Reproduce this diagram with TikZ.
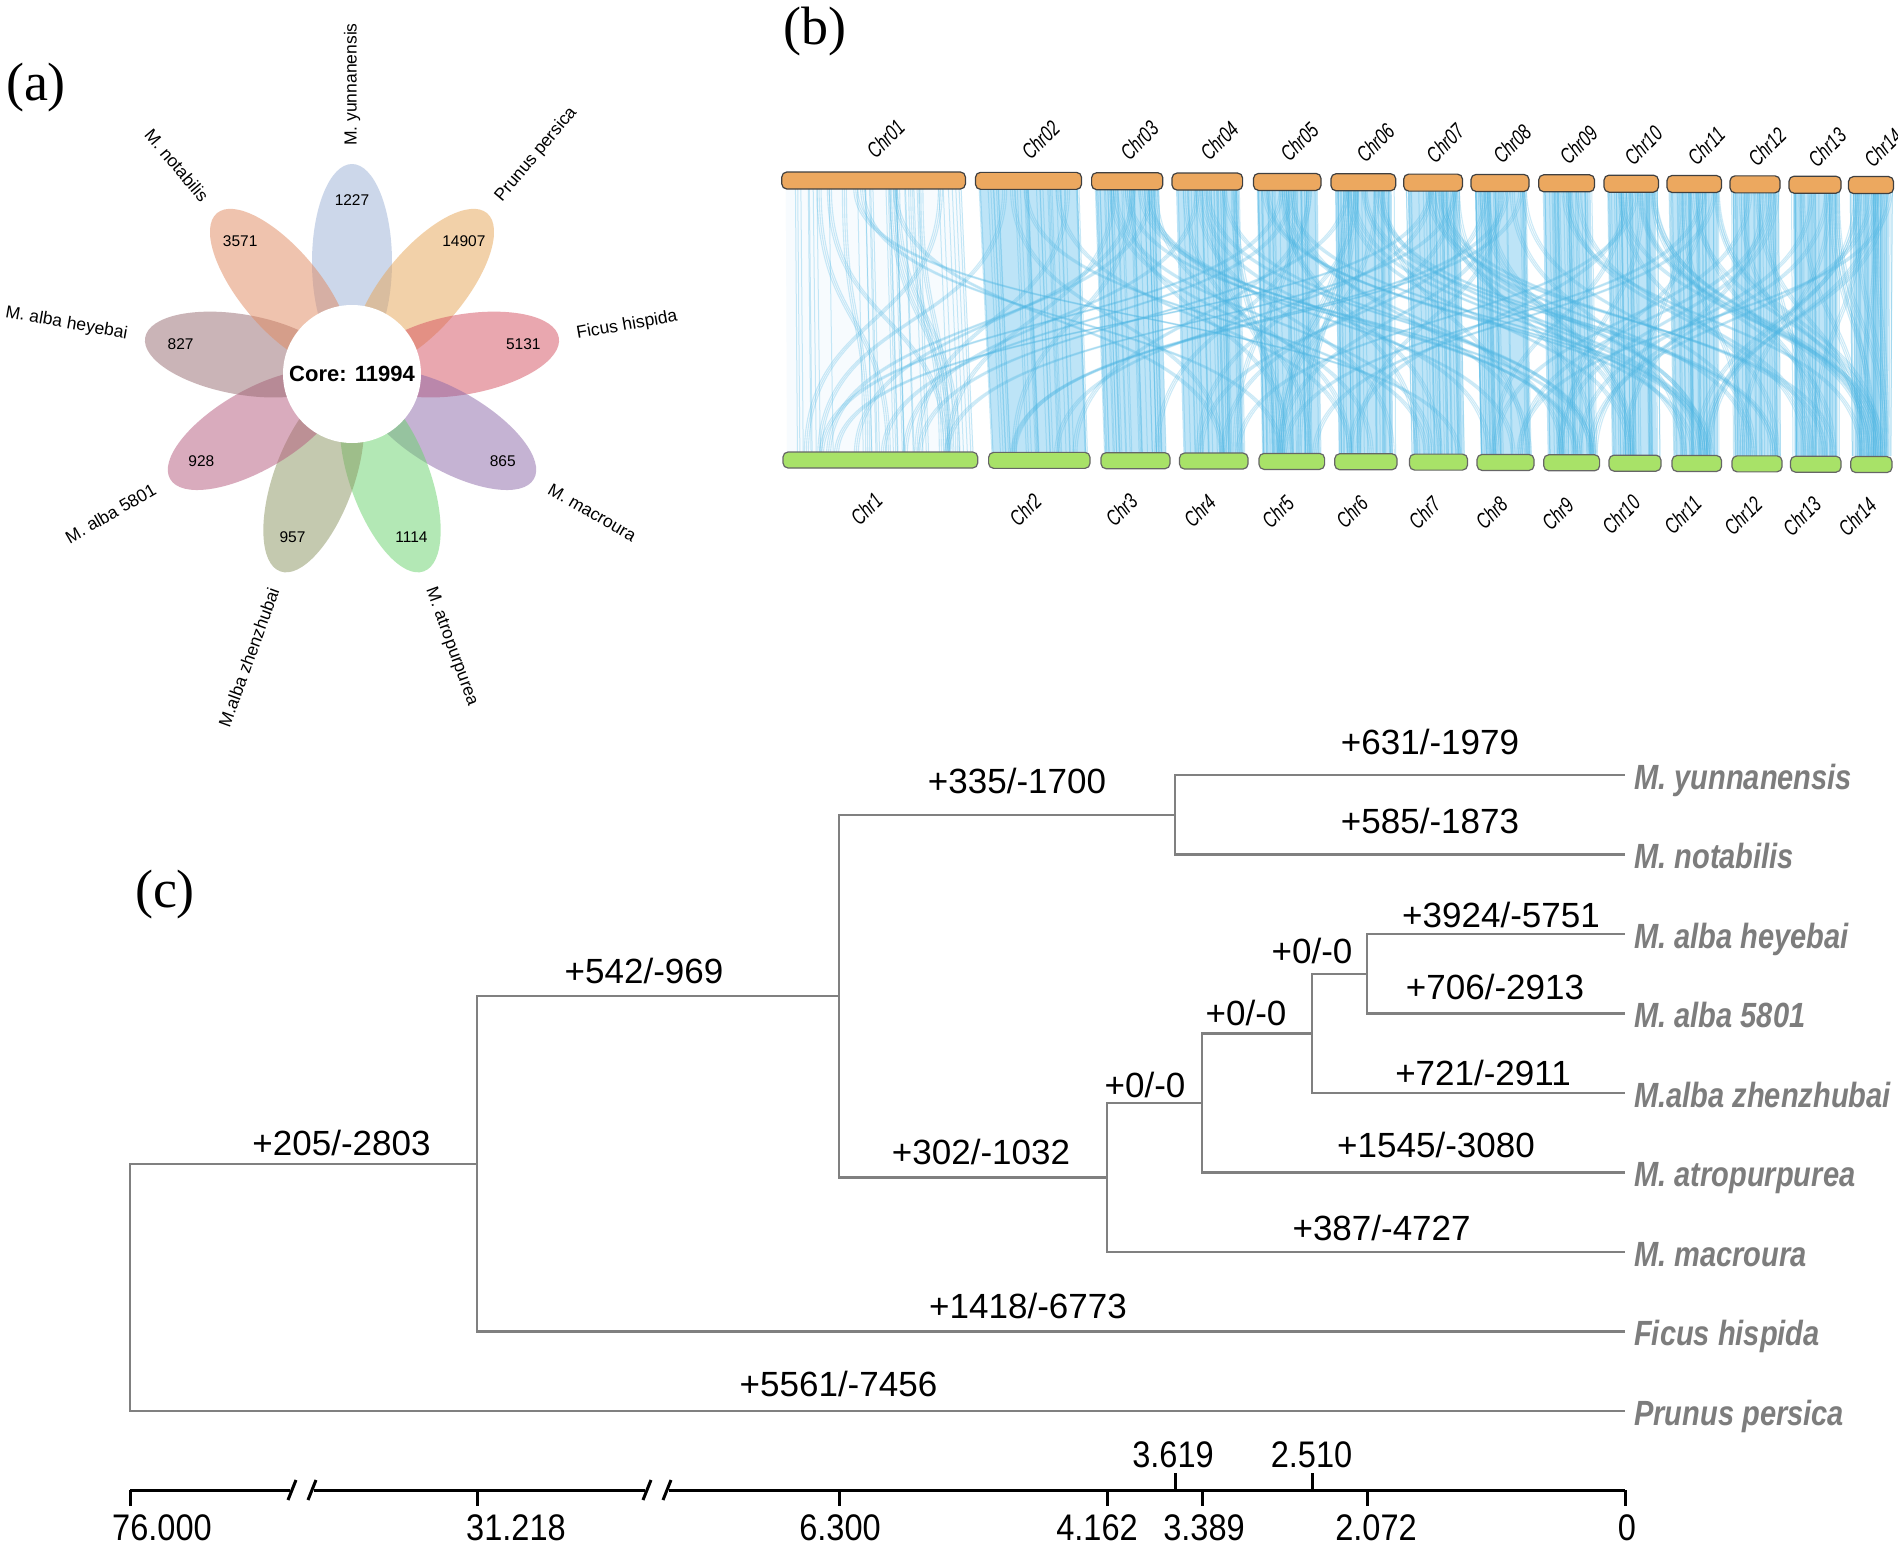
\documentclass[tikz,border=0pt]{standalone}
\usepackage{fontspec}
\setmainfont{Liberation Sans}
\newfontfamily\timesf{Liberation Serif}
\newfontfamily\leaff[FakeStretch=0.83]{Liberation Sans}
\newfontfamily\axisf[FakeStretch=0.88]{Liberation Sans}
\newfontfamily\chrf[FakeStretch=0.72]{Liberation Sans}
\definecolor{cyun}{RGB}{155,177,215}
\definecolor{cpru}{RGB}{231,165,85}
\definecolor{cfic}{RGB}{213,81,97}
\definecolor{cmac}{RGB}{141,105,169}
\definecolor{catr}{RGB}{105,211,109}
\definecolor{czhe}{RGB}{139,149,97}
\definecolor{cfiv}{RGB}{181,89,125}
\definecolor{chey}{RGB}{151,107,113}
\definecolor{cnot}{RGB}{225,137,95}
\definecolor{treegray}{RGB}{128,128,128}
\definecolor{leafgray}{RGB}{125,125,125}
\definecolor{barorange}{RGB}{236,168,95}
\definecolor{bargreen}{RGB}{168,226,104}
\definecolor{linkblue}{RGB}{75,182,228}
\definecolor{linkfill}{RGB}{125,202,240}
\tikzset{
 branch/.style={draw=treegray, line width=2.5pt},
 brlab/.style={anchor=base, inner sep=0pt, font=\fontsize{35}{40}\selectfont},
 leaflab/.style={anchor=base west, inner sep=0pt, text=leafgray, font=\leaff\bfseries\itshape\fontsize{35}{40}\selectfont},
 axlab/.style={anchor=base, inner sep=0pt, font=\axisf\fontsize{37}{42}\selectfont},
 axisline/.style={draw=black, line width=3pt},
 panel/.style={anchor=base, inner sep=0pt, font=\timesf\fontsize{54}{60}\selectfont},
 petnum/.style={inner sep=0pt, font=\fontsize{15.5}{18}\selectfont},
 splab/.style={inner sep=0pt, font=\fontsize{17.5}{20}\selectfont},
 chrlab/.style={inner sep=0pt, font=\chrf\itshape\fontsize{22}{24}\selectfont},
 topbar/.style={fill=barorange, draw=black!75, line width=1.2pt, rounded corners=5pt},
 botbar/.style={fill=bargreen, draw=black!60, line width=1.2pt, rounded corners=5pt},
 linkline/.style={draw=linkblue, line width=1pt, draw opacity=0.3},
 crossline/.style={draw=linkblue, line width=1.1pt, draw opacity=0.28},
}
\begin{document}
\begin{tikzpicture}[x=1pt,y=-1pt]
\useasboundingbox (0,0) rectangle (1898,1547);
\fill[white] (0,0) rectangle (1898,1547);

% ---------- panel labels
\node[panel] (pa) at (36,100) {(a)};
\node[panel] (pb) at (815,44) {(b)};
\node[panel] (pc) at (165,907) {(c)};

% ---------- (a) flower
\begin{scope}[shift={(352,374)},y=1pt]
 \foreach \a/\c in {90/cyun,50/cpru,10/cfic,-30/cmac,-70/catr,-110/czhe,-150/cfiv,170/chey,130/cnot}{
   \fill[\c, fill opacity=0.5, rotate=\a] (112,0) ellipse [x radius=98, y radius=40];
 }
 \fill[white] (0,0) circle [radius=69];
 \node[font=\bfseries\fontsize{22}{26}\selectfont] (core) at (0,0) {Core: 11994};
 \foreach \a/\t [count=\i] in {90/1227,50/14907,10/5131,-30/865,-70/1114,-110/957,-150/928,170/827,130/3571}{
   \node[petnum] (num\i) at (\a:174) {\t};
 }
 \foreach \a/\t [count=\i] in {90/M. yunnanensis,50/Prunus persica,10/Ficus hispida,-30/M. macroura,-70/M. atropurpurea}{
   \node[splab, rotate=\a, anchor=west] (spr\i) at (\a:228) {\t};
 }
 \foreach \a/\t [count=\i] in {-110/M.alba zhenzhubai,-150/M. alba 5801,170/M. alba heyebai,130/M. notabilis}{
   \node[splab, rotate=\a-180, anchor=east] (spl\i) at (\a:228) {\t};
 }
\end{scope}

% ---------- (b) synteny
\def\tL{{781.8,975.5,1091.6,1172,1253.5,1331,1403.7,1471,1538.7,1604,1667,1730,1789,1848.5}}
\def\tR{{965.4,1081.5,1162.8,1242.6,1321,1395.7,1462.5,1529,1594.5,1658.4,1721.5,1780,1841,1893.5}}
\def\bL{{783,988.6,1101,1179.5,1259,1334.7,1409.5,1477,1543.7,1609,1672,1732,1790.5,1850.7}}
\def\bR{{977.7,1090,1170,1248,1324.6,1397,1467.5,1534,1599.6,1661,1721.5,1782,1841,1892}}
\pgfmathsetseed{20}
\foreach \i in {0,...,13}{
  \pgfmathsetmacro\ta{\tL[\i]}
  \pgfmathsetmacro\tb{\tR[\i]}
  \pgfmathsetmacro\ba{\bL[\i]}
  \pgfmathsetmacro\bb{\bR[\i]}
  \pgfmathsetmacro\op{\i==0 ? 0.06 : 0.5}
  \fill[linkfill, fill opacity=\op] (\ta+4,188) -- (\tb-4,188) -- (\bb-4,456) -- (\ba+4,456) -- cycle;
  \foreach \k in {1,...,34}{
    \pgfmathsetmacro\u{0.02+0.96*rnd}
    \draw[linkline] (\ta+\u*\tb-\u*\ta,188) -- (\ba+\u*\bb-\u*\ba,456);
  }
}
\foreach \n in {1,...,130}{
  \pgfmathrandominteger{\ti}{0}{13}
  \pgfmathrandominteger{\off}{1}{6}
  \pgfmathrandominteger{\sg}{0}{1}
  \pgfmathtruncatemacro{\bj}{\ti+(2*\sg-1)*\off}
  \pgfmathtruncatemacro{\bi}{max(0,min(13,\bj))}
  \pgfmathsetmacro{\xt}{\tL[\ti]+(0.1+0.8*rnd)*(\tR[\ti]-\tL[\ti])}
  \pgfmathsetmacro{\xb}{\bL[\bi]+(0.1+0.8*rnd)*(\bR[\bi]-\bL[\bi])}
  \foreach \m in {0,1,2}{
    \draw[crossline] (\xt+2*\m,188) .. controls (\xt+2*\m,330) and (\xb+2*\m,310) .. (\xb+2*\m,456);
  }
}
\foreach \i in {0,...,13}{
  \pgfmathsetmacro\ta{\tL[\i]}
  \pgfmathsetmacro\tb{\tR[\i]}
  \pgfmathsetmacro\ba{\bL[\i]}
  \pgfmathsetmacro\bb{\bR[\i]}
  \pgfmathsetmacro\dy{0.35*\i}
  \pgfmathtruncatemacro\j{\i+1}
  \draw[topbar] (\ta,172+\dy) rectangle (\tb,189+\dy);
  \draw[botbar] (\ba,452+\dy) rectangle (\bb,468+\dy);
  \node[chrlab, rotate=45] (ct\j) at (\ta/2+\tb/2+12,139+0.7*\i) {Chr\ifnum\j<10 0\fi\j};
  \node[chrlab, rotate=45] (cb\j) at (\ba/2+\bb/2-14,509+0.6*\i) {Chr\j};
}

% ---------- (c) tree
\coordinate (root) at (130,1287.25);
\coordinate (n2) at (477,1163.8);
\coordinate (n3) at (839,996);
\coordinate (n4) at (1175,814.75);
\coordinate (n5) at (1107,1177.5);
\coordinate (n6) at (1202,1103);
\coordinate (n7) at (1312,1033.4);
\coordinate (n8) at (1367,973.75);
\coordinate (lyun) at (1625,775);
\coordinate (lnot) at (1625,854.5);
\coordinate (lhey) at (1625,934);
\coordinate (lfiv) at (1625,1013.5);
\coordinate (lzhe) at (1625,1093);
\coordinate (latr) at (1625,1172.5);
\coordinate (lmac) at (1625,1252);
\coordinate (lfic) at (1625,1331.5);
\coordinate (lpru) at (1625,1411);
\draw[branch] (root) |- (n2);
\draw[branch] (root) |- (lpru);
\draw[branch] (n2) |- (n3);
\draw[branch] (n2) |- (lfic);
\draw[branch] (n3) |- (n4);
\draw[branch] (n3) |- (n5);
\draw[branch] (n4) |- (lyun);
\draw[branch] (n4) |- (lnot);
\draw[branch] (n5) |- (n6);
\draw[branch] (n5) |- (lmac);
\draw[branch] (n6) |- (n7);
\draw[branch] (n6) |- (latr);
\draw[branch] (n7) |- (n8);
\draw[branch] (n7) |- (lzhe);
\draw[branch] (n8) |- (lhey);
\draw[branch] (n8) |- (lfiv);

\node[leaflab] (tyun) at (1634,789) {M. yunnanensis};
\node[leaflab] (tnot) at (1634,868.5) {M. notabilis};
\node[leaflab] (they) at (1634,948) {M. alba heyebai};
\node[leaflab] (tfiv) at (1634,1027.5) {M. alba 5801};
\node[leaflab] (tzhe) at (1634,1107) {M.alba zhenzhubai};
\node[leaflab] (tatr) at (1634,1186.5) {M. atropurpurea};
\node[leaflab] (tmac) at (1634,1266) {M. macroura};
\node[leaflab] (tfic) at (1634,1345.5) {Ficus hispida};
\node[leaflab] (tpru) at (1634,1425) {Prunus persica};

\node[brlab] (b1) at (1430,754) {+631/-1979};
\node[brlab] (b2) at (1430,833) {+585/-1873};
\node[brlab] (b3) at (1017,793) {+335/-1700};
\node[brlab] (b4) at (1501,927) {+3924/-5751};
\node[brlab] (b5) at (1312,963.5) {+0/-0};
\node[brlab] (b6) at (1495,999.5) {+706/-2913};
\node[brlab] (b7) at (1246,1025) {+0/-0};
\node[brlab] (b8) at (1483,1085) {+721/-2911};
\node[brlab] (b9) at (1145,1097) {+0/-0};
\node[brlab] (b10) at (1436,1157) {+1545/-3080};
\node[brlab] (b11) at (981,1164) {+302/-1032};
\node[brlab] (b12) at (1381.6,1240) {+387/-4727};
\node[brlab] (b13) at (644,983) {+542/-969};
\node[brlab] (b14) at (341.5,1155) {+205/-2803};
\node[brlab] (b15) at (1028,1318) {+1418/-6773};
\node[brlab] (b16) at (838.5,1396.5) {+5561/-7456};

% ---------- axis
\coordinate (ax0) at (130,1490);
\coordinate (ax1) at (290,1490);
\coordinate (ax2) at (314,1490);
\coordinate (ax3) at (645,1490);
\coordinate (ax4) at (669,1490);
\coordinate (ax5) at (1625,1490);
\draw[axisline] (ax0) -- (ax1);
\draw[axisline] (ax2) -- (ax3);
\draw[axisline] (ax4) -- (ax5);
\draw[axisline] (288,1500) -- (296,1480);
\draw[axisline] (308,1500) -- (316,1480);
\draw[axisline] (643,1500) -- (651,1480);
\draw[axisline] (663,1500) -- (671,1480);
\foreach \x in {130,477,839,1107,1202,1367,1625}{
  \draw[axisline] (\x,1490) -- (\x,1506);
}
\foreach \x in {1175,1312}{
  \draw[axisline] (\x,1490) -- (\x,1473);
}
\node[axlab] (x1) at (162,1540) {76.000};
\node[axlab] (x2) at (516,1540) {31.218};
\node[axlab] (x3) at (840,1540) {6.300};
\node[axlab] (x4) at (1097,1540) {4.162};
\node[axlab] (x5) at (1204,1540) {3.389};
\node[axlab] (x6) at (1376,1540) {2.072};
\node[axlab] (x7) at (1627,1540) {0};
\node[axlab] (x8) at (1173,1467) {3.619};
\node[axlab] (x9) at (1311.5,1467) {2.510};
\end{tikzpicture}
\end{document}
